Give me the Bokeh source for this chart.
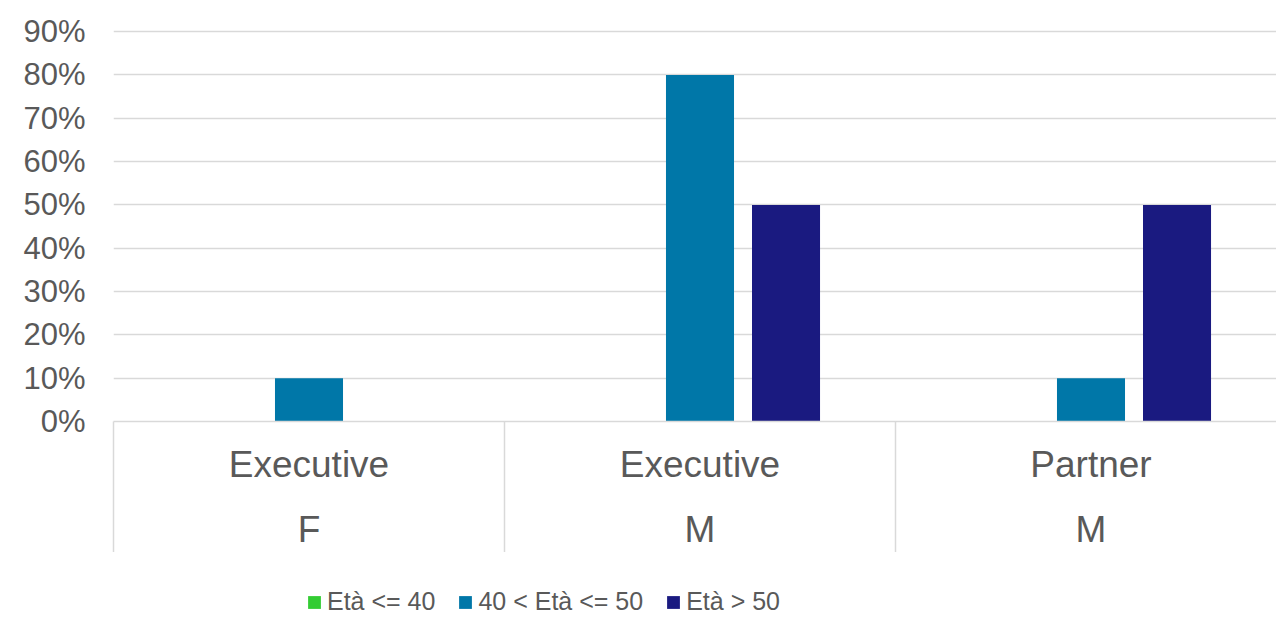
from bokeh.plotting import figure
from bokeh.models import (ColumnDataSource, Range1d, FixedTicker, NumeralTickFormatter,
                          LinearAxis, Legend, LegendItem)
from bokeh.layouts import column
from bokeh.transform import dodge
from bokeh.embed import file_html
from bokeh.resources import INLINE

# ---- data ----
categories_top = ["Executive", "Executive", "Partner"]
categories_bottom = ["F", "M", "M"]
series_names = ["Età <= 40", "40 < Età <= 50", "Età > 50"]
values_le40 = [0.0, 0.0, 0.0]
values_40_50 = [0.10, 0.80, 0.10]
values_gt50 = [0.0, 0.50, 0.50]
y_ticks = [0.0, 0.1, 0.2, 0.3, 0.4, 0.5, 0.6, 0.7, 0.8, 0.9]

colors = ["#33CC33", "#0077A8", "#1A1A80"]
TEXT = "#595959"
GRID = "#D9D9D9"
FONT = "Liberation Sans"

n = len(categories_top)
centers = [i + 0.5 for i in range(n)]
bounds = [float(i) for i in range(n + 1)]
cols = ["s0", "s1", "s2"]

src = ColumnDataSource(dict(x=centers, s0=values_le40, s1=values_40_50, s2=values_gt50))

W = 1276
H_MAIN = 552
H_LEG = 64
LEFT, TOP = 113, 29
GROUP_PX = 391
frame_w = W - LEFT

p = figure(width=W, height=H_MAIN, output_backend="svg", toolbar_location=None,
           x_range=Range1d(0, frame_w / GROUP_PX), y_range=Range1d(0, 0.905),
           min_border_left=LEFT, min_border_right=0, min_border_top=TOP,
           min_border_bottom=0)
p.outline_line_color = None
p.background_fill_color = "white"
p.border_fill_color = "white"

for k, (col, off) in enumerate(zip(cols, [-0.22, 0.0, 0.22])):
    p.vbar(x=dodge("x", off, range=p.x_range), top=col, bottom=0, width=0.174,
           source=src, fill_color=colors[k], line_color=None)

# y axis
ya = p.yaxis[0]
ya.ticker = FixedTicker(ticks=y_ticks)
ya.formatter = NumeralTickFormatter(format="0%")
ya.axis_line_color = None
ya.major_tick_line_color = None
ya.minor_tick_line_color = None
ya.major_tick_out = 0
ya.major_tick_in = 0
ya.major_label_standoff = 28
ya.major_label_text_font = FONT
ya.major_label_text_font_size = "31px"
ya.major_label_text_color = TEXT

p.ygrid.grid_line_color = GRID
p.ygrid.grid_line_width = 1.5
p.xgrid.grid_line_color = None

# x axis: top row of category labels
xa = p.xaxis[0]
xa.ticker = FixedTicker(ticks=centers)
xa.major_label_overrides = {c: t for c, t in zip(centers, categories_top)}
xa.axis_line_color = GRID
xa.axis_line_width = 1.5
xa.major_tick_line_color = None
xa.minor_tick_line_color = None
xa.major_tick_out = 0
xa.major_tick_in = 0
xa.minor_tick_out = 0
xa.minor_tick_in = 0
xa.major_label_standoff = 22
xa.major_label_text_font = FONT
xa.major_label_text_font_size = "37px"
xa.major_label_text_color = TEXT

# second row of category labels
xb = LinearAxis(ticker=FixedTicker(ticks=centers),
                major_label_overrides={c: t for c, t in zip(centers, categories_bottom)},
                axis_line_color=None, major_tick_line_color=None, minor_tick_line_color=None,
                major_tick_out=0, major_tick_in=0, minor_tick_out=0, minor_tick_in=0,
                major_label_standoff=21,
                major_label_text_font=FONT, major_label_text_font_size="37px",
                major_label_text_color=TEXT)
p.add_layout(xb, "below")

# group separators (minor ticks pointing up to the plot frame)
xc = LinearAxis(ticker=FixedTicker(ticks=[], minor_ticks=bounds),
                axis_line_color=None, major_tick_line_color=None,
                minor_tick_line_color=GRID, minor_tick_line_width=1.5,
                major_tick_out=0, major_tick_in=0, minor_tick_out=0, minor_tick_in=131,
                major_label_standoff=0, major_label_text_font_size="0px")
p.add_layout(xc, "below")

# ---- legend strip (same series, kept outside its visible ranges) ----
pl = figure(width=W, height=H_LEG, output_backend="svg", toolbar_location=None,
            x_range=Range1d(-3, -2), y_range=Range1d(-3, -2),
            x_axis_location=None, y_axis_location=None,
            min_border_left=0, min_border_right=0, min_border_top=0, min_border_bottom=0)
pl.outline_line_color = None
pl.xgrid.visible = False
pl.ygrid.visible = False
leg_renderers = [pl.vbar(x="x", top=col, bottom=0, width=0.1, source=src,
                         fill_color=colors[k], line_color=None)
                 for k, col in enumerate(cols)]

legend = Legend(items=[LegendItem(label=s, renderers=[r]) for s, r in zip(series_names, leg_renderers)],
                orientation="horizontal", location=(193, 0), padding=0, spacing=22, margin=0,
                glyph_width=16, glyph_height=16, label_standoff=5,
                label_text_font=FONT, label_text_font_size="25px",
                label_text_color=TEXT,
                border_line_color=None, background_fill_alpha=0)
pl.add_layout(legend, "center")

layout = column(p, pl, spacing=0)
open("out.html", "w").write(file_html(layout, INLINE))
